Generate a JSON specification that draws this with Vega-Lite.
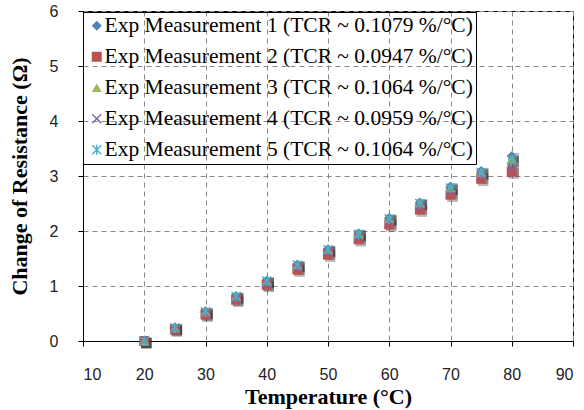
{
  "$schema": "https://vega.github.io/schema/vega-lite/v6.json",
  "width": 490,
  "height": 330,
  "autosize": {"type": "none"},
  "padding": {"left": 83, "top": 11, "right": 11, "bottom": 69},
  "background": "white",
  "data": {
    "values": [
      {"series": "Exp Measurement 1 (TCR ~ 0.1079 %/°C)", "t": 20, "r": 0},
      {"series": "Exp Measurement 1 (TCR ~ 0.1079 %/°C)", "t": 25, "r": 0.25},
      {"series": "Exp Measurement 1 (TCR ~ 0.1079 %/°C)", "t": 30, "r": 0.54},
      {"series": "Exp Measurement 1 (TCR ~ 0.1079 %/°C)", "t": 35, "r": 0.82},
      {"series": "Exp Measurement 1 (TCR ~ 0.1079 %/°C)", "t": 40, "r": 1.1},
      {"series": "Exp Measurement 1 (TCR ~ 0.1079 %/°C)", "t": 45, "r": 1.39},
      {"series": "Exp Measurement 1 (TCR ~ 0.1079 %/°C)", "t": 50, "r": 1.67},
      {"series": "Exp Measurement 1 (TCR ~ 0.1079 %/°C)", "t": 55, "r": 1.96},
      {"series": "Exp Measurement 1 (TCR ~ 0.1079 %/°C)", "t": 60, "r": 2.24},
      {"series": "Exp Measurement 1 (TCR ~ 0.1079 %/°C)", "t": 65, "r": 2.52},
      {"series": "Exp Measurement 1 (TCR ~ 0.1079 %/°C)", "t": 70, "r": 2.81},
      {"series": "Exp Measurement 1 (TCR ~ 0.1079 %/°C)", "t": 75, "r": 3.09},
      {"series": "Exp Measurement 1 (TCR ~ 0.1079 %/°C)", "t": 80, "r": 3.36},
      {"series": "Exp Measurement 2 (TCR ~ 0.0947 %/°C)", "t": 20, "r": 0},
      {"series": "Exp Measurement 2 (TCR ~ 0.0947 %/°C)", "t": 25, "r": 0.21},
      {"series": "Exp Measurement 2 (TCR ~ 0.0947 %/°C)", "t": 30, "r": 0.48},
      {"series": "Exp Measurement 2 (TCR ~ 0.0947 %/°C)", "t": 35, "r": 0.75},
      {"series": "Exp Measurement 2 (TCR ~ 0.0947 %/°C)", "t": 40, "r": 1.02},
      {"series": "Exp Measurement 2 (TCR ~ 0.0947 %/°C)", "t": 45, "r": 1.3},
      {"series": "Exp Measurement 2 (TCR ~ 0.0947 %/°C)", "t": 50, "r": 1.57},
      {"series": "Exp Measurement 2 (TCR ~ 0.0947 %/°C)", "t": 55, "r": 1.85},
      {"series": "Exp Measurement 2 (TCR ~ 0.0947 %/°C)", "t": 60, "r": 2.12},
      {"series": "Exp Measurement 2 (TCR ~ 0.0947 %/°C)", "t": 65, "r": 2.39},
      {"series": "Exp Measurement 2 (TCR ~ 0.0947 %/°C)", "t": 70, "r": 2.66},
      {"series": "Exp Measurement 2 (TCR ~ 0.0947 %/°C)", "t": 75, "r": 2.95},
      {"series": "Exp Measurement 2 (TCR ~ 0.0947 %/°C)", "t": 80, "r": 3.08},
      {"series": "Exp Measurement 3 (TCR ~ 0.1064 %/°C)", "t": 20, "r": 0},
      {"series": "Exp Measurement 3 (TCR ~ 0.1064 %/°C)", "t": 25, "r": 0.24},
      {"series": "Exp Measurement 3 (TCR ~ 0.1064 %/°C)", "t": 30, "r": 0.53},
      {"series": "Exp Measurement 3 (TCR ~ 0.1064 %/°C)", "t": 35, "r": 0.81},
      {"series": "Exp Measurement 3 (TCR ~ 0.1064 %/°C)", "t": 40, "r": 1.09},
      {"series": "Exp Measurement 3 (TCR ~ 0.1064 %/°C)", "t": 45, "r": 1.38},
      {"series": "Exp Measurement 3 (TCR ~ 0.1064 %/°C)", "t": 50, "r": 1.66},
      {"series": "Exp Measurement 3 (TCR ~ 0.1064 %/°C)", "t": 55, "r": 1.95},
      {"series": "Exp Measurement 3 (TCR ~ 0.1064 %/°C)", "t": 60, "r": 2.23},
      {"series": "Exp Measurement 3 (TCR ~ 0.1064 %/°C)", "t": 65, "r": 2.51},
      {"series": "Exp Measurement 3 (TCR ~ 0.1064 %/°C)", "t": 70, "r": 2.79},
      {"series": "Exp Measurement 3 (TCR ~ 0.1064 %/°C)", "t": 75, "r": 3.07},
      {"series": "Exp Measurement 3 (TCR ~ 0.1064 %/°C)", "t": 80, "r": 3.31},
      {"series": "Exp Measurement 4 (TCR ~ 0.0959 %/°C)", "t": 20, "r": 0},
      {"series": "Exp Measurement 4 (TCR ~ 0.0959 %/°C)", "t": 25, "r": 0.22},
      {"series": "Exp Measurement 4 (TCR ~ 0.0959 %/°C)", "t": 30, "r": 0.5},
      {"series": "Exp Measurement 4 (TCR ~ 0.0959 %/°C)", "t": 35, "r": 0.77},
      {"series": "Exp Measurement 4 (TCR ~ 0.0959 %/°C)", "t": 40, "r": 1.04},
      {"series": "Exp Measurement 4 (TCR ~ 0.0959 %/°C)", "t": 45, "r": 1.33},
      {"series": "Exp Measurement 4 (TCR ~ 0.0959 %/°C)", "t": 50, "r": 1.61},
      {"series": "Exp Measurement 4 (TCR ~ 0.0959 %/°C)", "t": 55, "r": 1.89},
      {"series": "Exp Measurement 4 (TCR ~ 0.0959 %/°C)", "t": 60, "r": 2.16},
      {"series": "Exp Measurement 4 (TCR ~ 0.0959 %/°C)", "t": 65, "r": 2.43},
      {"series": "Exp Measurement 4 (TCR ~ 0.0959 %/°C)", "t": 70, "r": 2.71},
      {"series": "Exp Measurement 4 (TCR ~ 0.0959 %/°C)", "t": 75, "r": 2.99},
      {"series": "Exp Measurement 4 (TCR ~ 0.0959 %/°C)", "t": 80, "r": 3.13},
      {"series": "Exp Measurement 5 (TCR ~ 0.1064 %/°C)", "t": 20, "r": 0},
      {"series": "Exp Measurement 5 (TCR ~ 0.1064 %/°C)", "t": 25, "r": 0.24},
      {"series": "Exp Measurement 5 (TCR ~ 0.1064 %/°C)", "t": 30, "r": 0.53},
      {"series": "Exp Measurement 5 (TCR ~ 0.1064 %/°C)", "t": 35, "r": 0.81},
      {"series": "Exp Measurement 5 (TCR ~ 0.1064 %/°C)", "t": 40, "r": 1.09},
      {"series": "Exp Measurement 5 (TCR ~ 0.1064 %/°C)", "t": 45, "r": 1.38},
      {"series": "Exp Measurement 5 (TCR ~ 0.1064 %/°C)", "t": 50, "r": 1.66},
      {"series": "Exp Measurement 5 (TCR ~ 0.1064 %/°C)", "t": 55, "r": 1.94},
      {"series": "Exp Measurement 5 (TCR ~ 0.1064 %/°C)", "t": 60, "r": 2.22},
      {"series": "Exp Measurement 5 (TCR ~ 0.1064 %/°C)", "t": 65, "r": 2.5},
      {"series": "Exp Measurement 5 (TCR ~ 0.1064 %/°C)", "t": 70, "r": 2.78},
      {"series": "Exp Measurement 5 (TCR ~ 0.1064 %/°C)", "t": 75, "r": 3.06},
      {"series": "Exp Measurement 5 (TCR ~ 0.1064 %/°C)", "t": 80, "r": 3.3}
    ]
  },
  "encoding": {
    "x": {
      "field": "t", "type": "quantitative",
      "scale": {"domain": [10, 90], "nice": false, "zero": false},
      "axis": {"values": [10, 20, 30, 40, 50, 60, 70, 80, 90], "title": "Temperature (°C)", "format": "d"}
    },
    "y": {
      "field": "r", "type": "quantitative",
      "scale": {"domain": [0, 6], "nice": false},
      "axis": {"values": [0, 1, 2, 3, 4, 5, 6], "title": "Change of Resistance (Ω)", "format": "d"}
    }
  },
  "layer": [
    {
      "mark": {"type": "point", "filled": true, "shape": "square", "size": 110, "color": "#333333", "opacity": 0.35, "xOffset": 2, "yOffset": 2}
    },
    {
      "mark": {"type": "point", "filled": true, "size": 100, "opacity": 1},
      "encoding": {
        "color": {
          "field": "series", "type": "nominal",
          "scale": {"range": ["#4F81BD", "#C0504D", "#9BBB59", "#8064A2", "#4BACC6"]},
          "legend": {"title": null}
        },
        "shape": {
          "field": "series", "type": "nominal",
          "scale": {"range": [
            "diamond",
            "square",
            "triangle-up",
            "M-0.8,-1L0,-0.2L0.8,-1L1,-0.8L0.2,0L1,0.8L0.8,1L0,0.2L-0.8,1L-1,0.8L-0.2,0L-1,-0.8Z",
            "M-0.8,-1L0,-0.2L0.8,-1L1,-0.8L0.2,0L1,0.8L0.8,1L0,0.2L-0.8,1L-1,0.8L-0.2,0L-1,-0.8ZM-0.14,-1L0.14,-1L0.14,1L-0.14,1Z"
          ]},
          "legend": {"title": null}
        }
      }
    }
  ],
  "config": {
    "view": {"stroke": "black", "strokeWidth": 1},
    "axis": {
      "domainColor": "black",
      "tickColor": "black",
      "tickSize": 5,
      "grid": true,
      "gridColor": "#888888",
      "gridDash": [5, 4],
      "gridWidth": 1,
      "labelFont": "Liberation Sans",
      "labelFontSize": 16,
      "labelColor": "#222222",
      "titleFont": "Liberation Serif",
      "titleFontWeight": "bold",
      "titleColor": "black"
    },
    "axisX": {"labelPadding": 20, "titleFontSize": 22, "titleBaseline": "alphabetic", "titleY": 62},
    "axisY": {"labelPadding": 20, "titlePadding": 18, "titleFontSize": 22},
    "legend": {
      "orient": "none",
      "legendX": 0,
      "legendY": 1,
      "strokeColor": "black",
      "padding": 3,
      "rowPadding": 8,
      "labelFont": "Liberation Serif",
      "labelFontSize": 21.5,
      "labelColor": "black",
      "labelOffset": -3,
      "symbolSize": 100,
      "labelLimit": 600
    }
  }
}
